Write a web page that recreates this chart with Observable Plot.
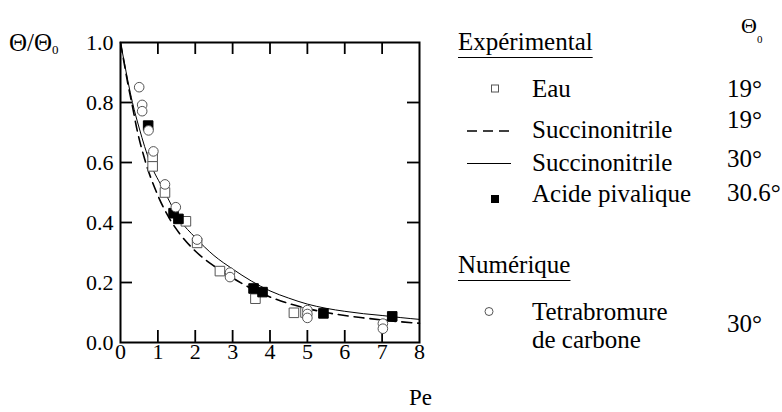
<!DOCTYPE html>
<html>
<head>
<meta charset="utf-8">
<script src="https://cdn.jsdelivr.net/npm/d3@7"></script>
<script src="https://cdn.jsdelivr.net/npm/@observablehq/plot@0.6"></script>
<style>
  html, body { margin: 0; padding: 0; background: #fff; }
  #chart { width: 782px; height: 412px; }
  #chart svg, #chart svg text, #chart svg tspan { font-family: "Liberation Serif", "Times New Roman", Times, serif !important; }
</style>
</head>
<body>
<div id="chart"></div>
<script>
// ---- data ----
const xTicks = [0, 1, 2, 3, 4, 5, 6, 7, 8];
const yTicks = [0, 0.2, 0.4, 0.6, 0.8, 1.0];

// Expérimental: Eau (open squares), Θ0 = 19°
const eauPe    = [0.86, 0.86, 1.19, 1.75, 2.05, 2.66, 3.61, 4.64, 4.95];
const eauTheta = [0.618, 0.587, 0.500, 0.404, 0.332, 0.238, 0.146, 0.099, 0.100];

// Expérimental: Acide pivalique (filled squares), Θ0 = 30.6°
const pivPe    = [0.74, 1.42, 1.55, 3.56, 3.80, 5.43, 7.27];
const pivTheta = [0.723, 0.431, 0.412, 0.180, 0.168, 0.097, 0.087];

// Numérique: Tetrabromure de carbone (open circles), Θ0 = 30°
const cbrPe    = [0.50, 0.58, 0.58, 0.75, 0.88, 1.19, 1.48, 2.05, 2.93, 2.93, 5.0, 5.0, 5.0, 7.02, 7.02];
const cbrTheta = [0.851, 0.792, 0.771, 0.707, 0.637, 0.527, 0.451, 0.343, 0.233, 0.218, 0.108, 0.095, 0.082, 0.063, 0.046];

// Succinonitrile 30° (solid line)
const suc30Pe    = [0, 0.1, 0.2, 0.32, 0.5, 0.79, 1.15, 1.58, 2.0, 2.5, 3.0, 3.5, 4.0, 4.5, 5.0, 5.5, 6.0, 6.5, 7.0, 7.5, 8.0];
const suc30Theta = [1.0, 0.935, 0.87, 0.80, 0.715, 0.60, 0.51, 0.41, 0.35, 0.29, 0.245, 0.205, 0.172, 0.148, 0.128, 0.114, 0.104, 0.096, 0.09, 0.083, 0.077];

// Succinonitrile 19° (dashed line)
const suc19Pe    = [0, 0.1, 0.2, 0.3, 0.45, 0.65, 1.0, 1.35, 1.6, 2.0, 2.5, 3.0, 3.5, 4.0, 4.5, 5.0, 5.5, 6.0, 6.5, 7.0, 7.5, 8.0];
const suc19Theta = [1.0, 0.93, 0.86, 0.80, 0.705, 0.61, 0.49, 0.405, 0.36, 0.305, 0.255, 0.215, 0.18, 0.152, 0.13, 0.113, 0.10, 0.09, 0.082, 0.075, 0.069, 0.064];

// legend
const legendHeaders = ["Expérimental", "Numérique"];
const legendNames = ["Eau", "Succinonitrile", "Succinonitrile", "Acide pivalique", "Tetrabromure|de carbone"];
const legendTemps = ["19°", "19°", "30°", "30.6°", "30°"];
const legendKinds = ["square", "dash", "line", "filled", "circle"];

// ---- build tables ----
const zip = (xs, ys) => xs.map((x, i) => ({x, y: ys[i]}));
const eau = zip(eauPe, eauTheta);
const piv = zip(pivPe, pivTheta);
const cbr = zip(cbrPe, cbrTheta);
const suc30 = zip(suc30Pe, suc30Theta);
const suc19 = zip(suc19Pe, suc19Theta);

const W = 782, H = 412;
const mL = 120, mR = 363, mT = 42, mB = 70;
const plotW = W - mL - mR, plotH = H - mT - mB;
const tickLen = 12;
const font = "Liberation Serif";
const innerX = xTicks.slice(1, -1);
const innerY = yTicks.slice(1, -1);

const chart = Plot.plot({
  width: W, height: H,
  marginLeft: mL, marginRight: mR, marginTop: mT, marginBottom: mB,
  style: {fontFamily: font, fontSize: "22px", color: "#000", background: "#fff"},
  x: {domain: [0, 8]},
  y: {domain: [0, 1]},
  marks: [
    Plot.axisX(xTicks, {tickSize: 0, tickPadding: 1, label: null, fontFamily: font, fontSize: 22, tickFormat: d3.format("d")}),
    Plot.axisY(yTicks, {tickSize: 0, tickPadding: 7, label: null, fontFamily: font, fontSize: 22, tickFormat: d3.format(".1f")}),
    // inward ticks on all four sides
    Plot.tickX(innerX, {x: d => d, insetTop: plotH - tickLen, stroke: "#000", strokeWidth: 1.8}),
    Plot.tickX(innerX, {x: d => d, insetBottom: plotH - tickLen, stroke: "#000", strokeWidth: 1.8}),
    Plot.tickY(innerY, {y: d => d, insetRight: plotW - tickLen, stroke: "#000", strokeWidth: 1.8}),
    Plot.tickY(innerY, {y: d => d, insetLeft: plotW - tickLen, stroke: "#000", strokeWidth: 1.8}),
    Plot.line(suc19, {x: "x", y: "y", stroke: "#000", strokeWidth: 1.6, strokeDasharray: "10,6", curve: "monotone-x"}),
    Plot.line(suc30, {x: "x", y: "y", stroke: "#000", strokeWidth: 1, curve: "monotone-x"}),
    Plot.dot(eau, {x: "x", y: "y", symbol: "square", r: 5.4, fill: "#fff", stroke: "#555", strokeWidth: 1}),
    Plot.dot(piv, {x: "x", y: "y", symbol: "square", r: 5.4, fill: "#000", stroke: "#000", strokeWidth: 1}),
    Plot.dot(cbr, {x: "x", y: "y", symbol: "circle", r: 4.8, fill: "#fff", stroke: "#555", strokeWidth: 1}),
    Plot.frame({stroke: "#000", strokeWidth: 2})
  ]
});
document.getElementById("chart").appendChild(chart);

// ---- extra text: axis titles and legend ----
const svg = d3.select(chart);
const g = svg.append("g").attr("font-family", font).attr("fill", "#000").attr("text-anchor", "start");

// y title Θ/Θ0
const yt = g.append("text").attr("x", 9).attr("y", 51).attr("font-size", 25).text("Θ/Θ");
yt.append("tspan").attr("font-size", 13).attr("dy", 3).text("0");
// x title Pe
g.append("text").attr("x", 409).attr("y", 405).attr("font-size", 23).text("Pe");
// Θ0 header
const th = g.append("text").attr("x", 741).attr("y", 33).attr("font-size", 22).text("Θ");
th.append("tspan").attr("font-size", 11).attr("dy", 10).text("0");

// headers with underline
const headerY = [50, 273];
legendHeaders.forEach((h, i) => {
  const t = g.append("text").attr("x", 458).attr("y", headerY[i]).attr("font-size", 25).text(h);
  const w = t.node().getComputedTextLength();
  g.append("line").attr("x1", 458).attr("x2", 458 + w)
    .attr("y1", headerY[i] + 7.5).attr("y2", headerY[i] + 7.5)
    .attr("stroke", "#000").attr("stroke-width", 1.2);
});

const nameY = [97, 138, 171, 202, 320];
const tempY = [97, 128, 167, 201, 332];
const symY = [88.5, 131, 163.5, 199, 311.5];
legendNames.forEach((n, i) => {
  const lines = n.split("|");
  const t = g.append("text").attr("x", 532).attr("y", nameY[i]).attr("font-size", 25);
  lines.forEach((ln, j) => {
    t.append("tspan").attr("x", 532).attr("dy", j === 0 ? 0 : 28).text(ln);
  });
  g.append("text").attr("x", 727).attr("y", tempY[i]).attr("font-size", 25).text(legendTemps[i]);
  const k = legendKinds[i];
  if (k === "square") {
    g.append("rect").attr("x", 491.5).attr("y", symY[i] - 3.5).attr("width", 7).attr("height", 7)
      .attr("fill", "#fff").attr("stroke", "#555").attr("stroke-width", 1);
  } else if (k === "filled") {
    g.append("rect").attr("x", 491).attr("y", symY[i] - 4).attr("width", 8).attr("height", 8)
      .attr("fill", "#000");
  } else if (k === "circle") {
    g.append("circle").attr("cx", 489).attr("cy", symY[i]).attr("r", 4)
      .attr("fill", "#fff").attr("stroke", "#555").attr("stroke-width", 1);
  } else {
    g.append("line").attr("x1", 467).attr("x2", 511).attr("y1", symY[i]).attr("y2", symY[i])
      .attr("stroke", "#000").attr("stroke-width", k === "dash" ? 1.3 : 1)
      .attr("stroke-dasharray", k === "dash" ? "10,6" : null);
  }
});
</script>
</body>
</html>
